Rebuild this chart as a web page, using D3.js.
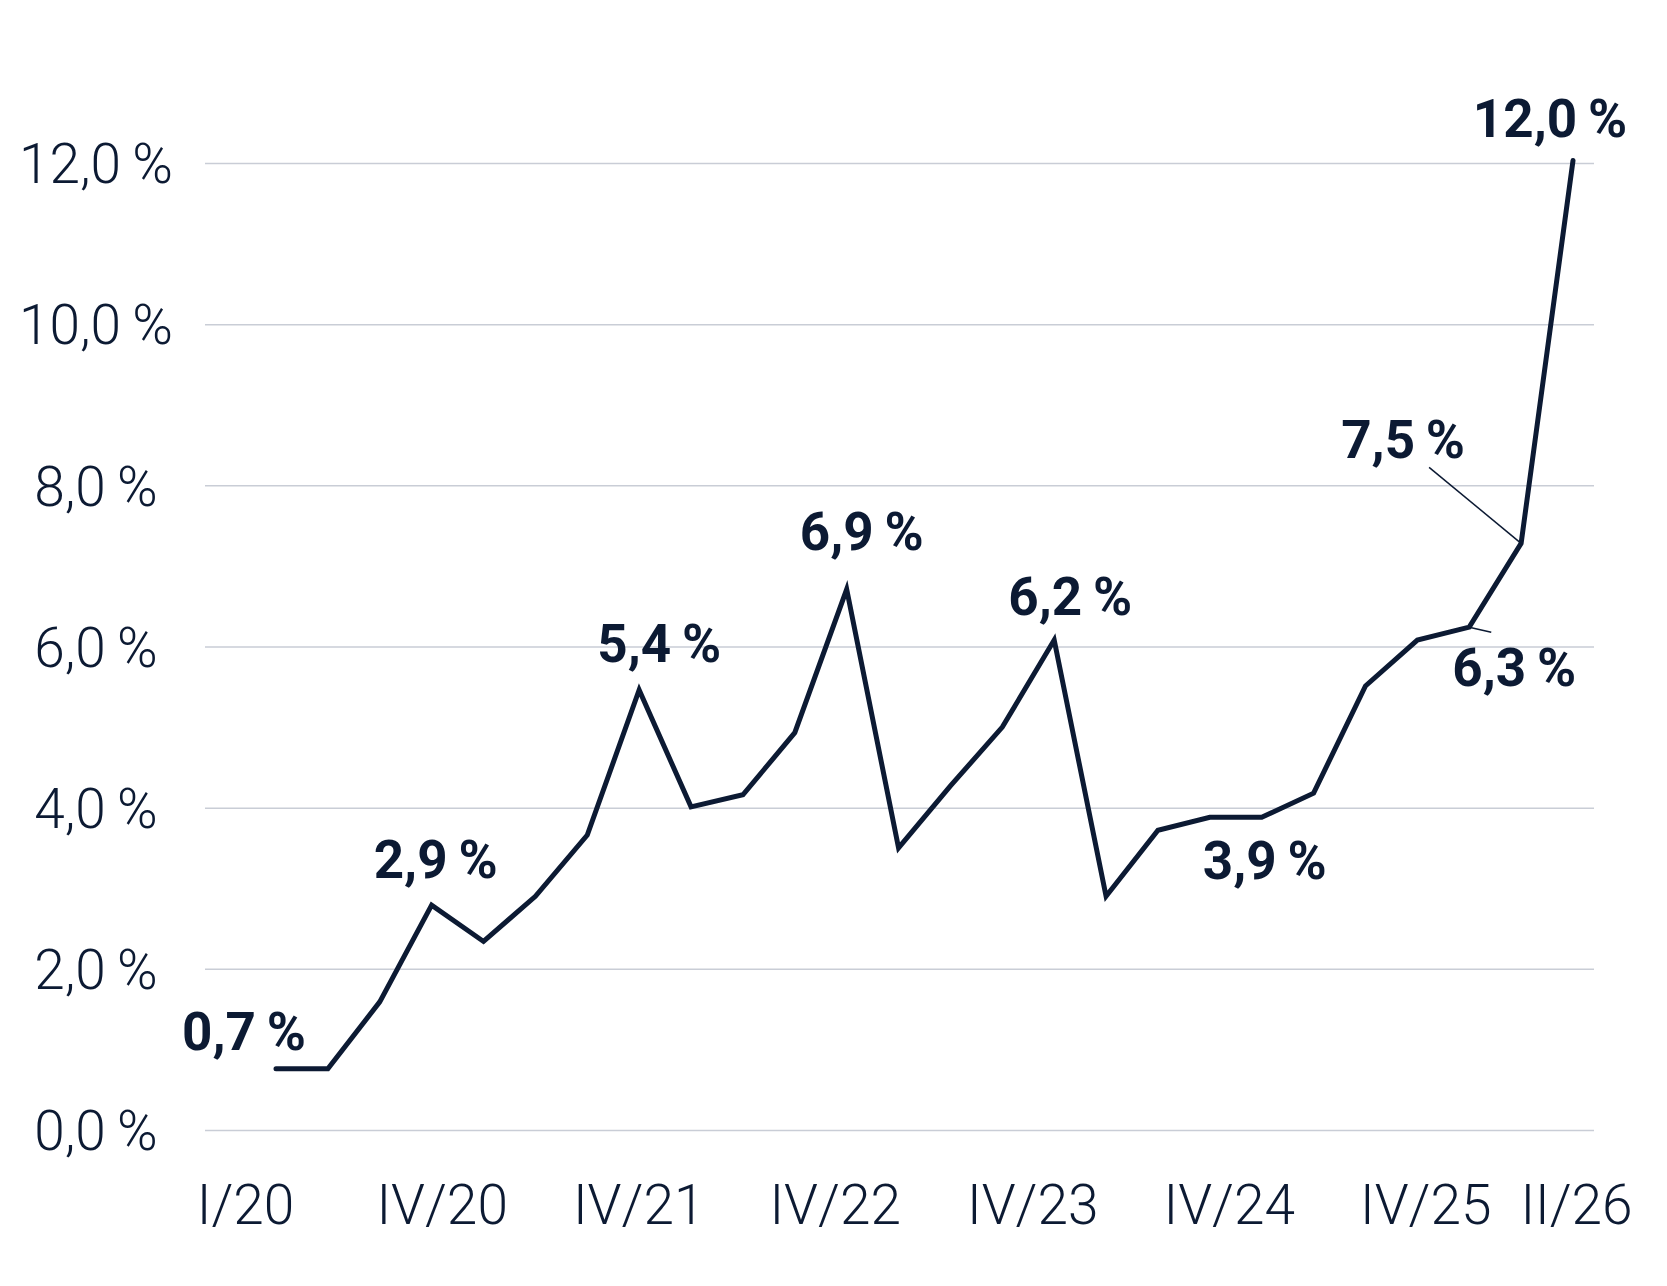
<!DOCTYPE html>
<html>
<head>
<meta charset="utf-8">
<script src="https://cdn.jsdelivr.net/npm/d3@7"></script>
<style>
  body { margin: 0; background: #fff; }
  #chart text { font-family: Roboto, "Noto Sans", sans-serif; fill: #0c1a33; }
</style>
</head>
<body>
<div id="chart"></div>
<script>
// quarterly values, I/20 .. II/26
var quarters = ["I/20","II/20","III/20","IV/20",
                "I/21","II/21","III/21","IV/21",
                "I/22","II/22","III/22","IV/22",
                "I/23","II/23","III/23","IV/23",
                "I/24","II/24","III/24","IV/24",
                "I/25","II/25","III/25","IV/25",
                "I/26","II/26"];
var rates = [0.76, 0.76, 1.59, 2.79,
             2.34, 2.90, 3.66, 5.46,
             4.01, 4.16, 4.93, 6.71,
             3.50, 4.27, 5.00, 6.08,
             2.90, 3.72, 3.88, 3.88,
             4.18, 5.51, 6.08, 6.24,
             7.28, 12.03];

var yTicks = [0, 2, 4, 6, 8, 10, 12];
var xTicks = ["I/20","IV/20","IV/21","IV/22","IV/23","IV/24","IV/25","II/26"];

// annotated points
var labelQuarters = ["I/20","IV/20","IV/21","IV/22","IV/23","IV/24","IV/25","I/26","II/26"];
var labelTexts = ["0,7\u2009%","2,9\u2009%","5,4\u2009%","6,9\u2009%","6,2\u2009%","3,9\u2009%","6,3\u2009%","7,5\u2009%","12,0\u2009%"];

// where each label sits relative to its point (dx = centre, dy = baseline)
var labelPos = {
  "I/20":  {dx: -32, dy: -19},
  "IV/20": {dx: 4,   dy: -27},
  "IV/21": {dx: 20,  dy: -28},
  "IV/22": {dx: 15,  dy: -39},
  "IV/23": {dx: 16,  dy: -25},
  "IV/24": {dx: 3,   dy: 62},
  "IV/25": {dx: 45,  dy: 59, lead: [22, 5]},
  "I/26":  {dx: -118, dy: -85, lead: [-92, -76]},
  "II/26": {dx: -23, dy: -24}
};

// the axis labels are not set exactly under their quarters
var tickShift = {"I/20": -31, "IV/20": 10, "IV/21": -1, "IV/22": -12,
                 "IV/23": -22, "IV/24": -33, "IV/25": -44, "II/26": 3};

var ink = "#0c1a33";

var margin = {top: 163, right: 73, bottom: 156, left: 205},
    width = 1667 - margin.left - margin.right,
    height = 1286 - margin.top - margin.bottom;

var svg = d3.select("#chart")
  .append("svg")
    .attr("width", width + margin.left + margin.right)
    .attr("height", height + margin.top + margin.bottom)
  .append("g")
    .attr("transform", "translate(" + margin.left + "," + margin.top + ")");

var de = d3.formatLocale({decimal: ",", thousands: ".", grouping: [3], currency: ["", "\u20ac"]});
var fmt = de.format(".1f");

var x = d3.scalePoint()
  .domain(quarters)
  .range([71, 1368]);

var y = d3.scaleLinear()
  .domain([0, 12])
  .range([height, 0]);

// Y axis with gridlines
var yAxis = svg.append("g")
  .call(d3.axisLeft(y)
    .tickValues(yTicks)
    .tickSize(-width)
    .tickFormat(d => fmt(d) + "\u2009%"));
yAxis.select(".domain").remove();
yAxis.selectAll("line")
  .attr("stroke", "#c9cdd6")
  .attr("stroke-width", 1.5);
yAxis.selectAll("text")
  .attr("x", -109)
  .attr("dy", "0.36em")
  .attr("text-anchor", "middle")
  .style("font-size", "55px")
  .style("font-weight", 300);

// X axis labels
var xAxis = svg.append("g")
  .attr("transform", `translate(0,${height})`)
  .call(d3.axisBottom(x).tickValues(xTicks).tickSize(0));
xAxis.select(".domain").remove();
xAxis.selectAll("text")
  .attr("x", d => tickShift[d])
  .attr("y", 94)
  .attr("dy", 0)
  .style("font-size", "55px")
  .style("font-weight", 300);

// the line
var line = d3.line()
  .x((d, i) => x(quarters[i]))
  .y(d => y(d));

svg.append("path")
  .datum(rates)
  .attr("fill", "none")
  .attr("stroke", ink)
  .attr("stroke-width", 5)
  .attr("stroke-linejoin", "miter")
  .attr("stroke-miterlimit", 10)
  .attr("stroke-linecap", "round")
  .attr("d", line);

// value labels
labelQuarters.forEach(function (q, i) {
  var px = x(q),
      py = y(rates[quarters.indexOf(q)]),
      p = labelPos[q];
  if (p.lead) {
    svg.append("line")
      .attr("x1", px)
      .attr("y1", py)
      .attr("x2", px + p.lead[0])
      .attr("y2", py + p.lead[1])
      .attr("stroke", ink)
      .attr("stroke-width", 1.5);
  }
  svg.append("text")
    .attr("x", px + p.dx)
    .attr("y", py + p.dy)
    .attr("text-anchor", "middle")
    .style("font-size", "53px")
    .style("font-weight", 700)
    .text(labelTexts[i]);
});
</script>
</body>
</html>
